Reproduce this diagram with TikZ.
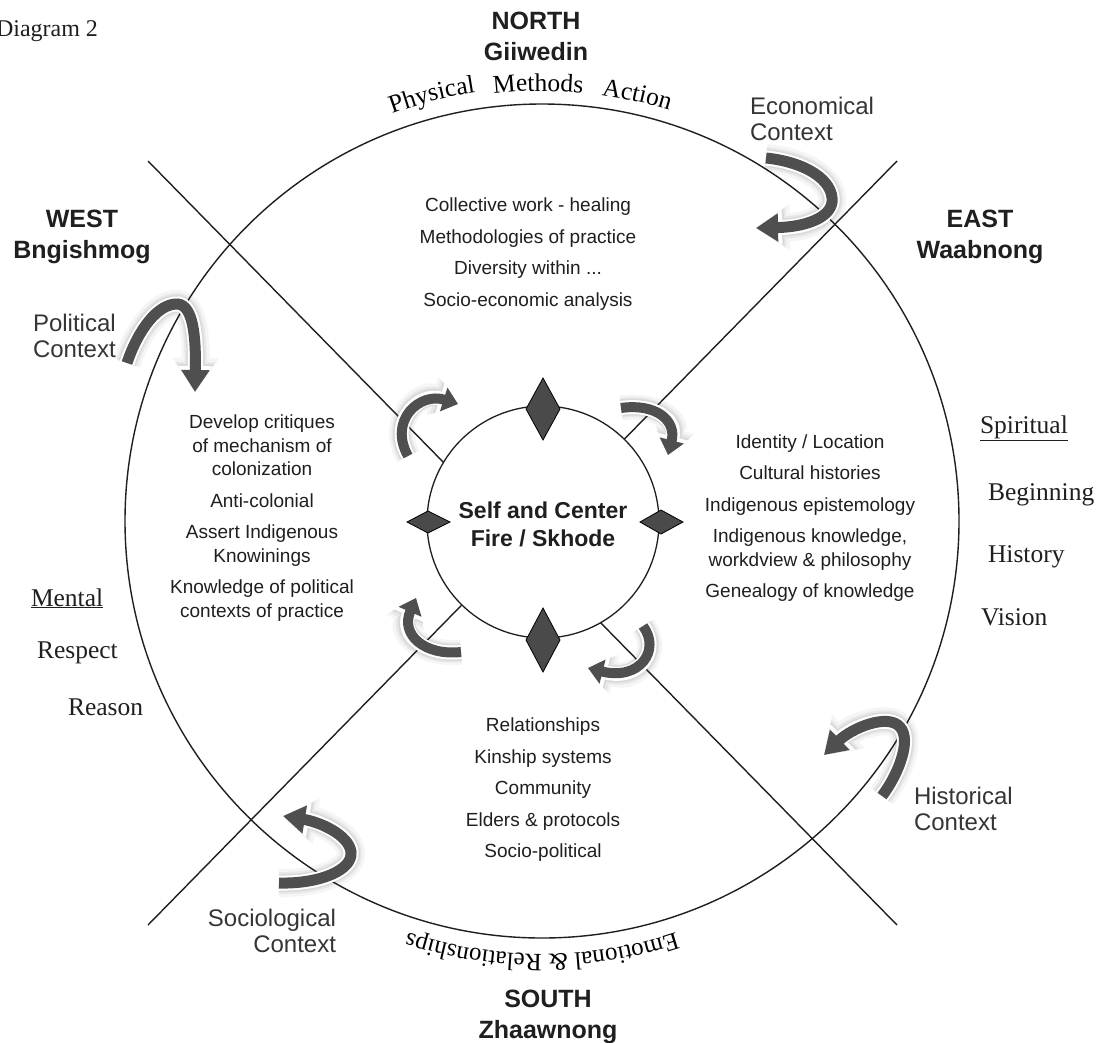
\documentclass[tikz,border=0pt]{standalone}
\usepackage{fontspec}
\setmainfont{Liberation Sans}
\newfontfamily\serifx{Liberation Serif}
\usetikzlibrary{arrows.meta,decorations.text}
\definecolor{ink}{HTML}{1F1F1F}
\definecolor{ribbon}{HTML}{4F4F4F}
\definecolor{diam}{HTML}{4A4A4A}
\tikzset{
  every node/.style={text=ink, inner sep=0pt, outer sep=0pt},
  listtext/.style={align=center, font=\fontsize{19}{23.5}\selectfont},
  heading/.style={align=center, font=\bfseries\fontsize{25}{31}\selectfont},
  ctxtext/.style={font=\fontsize{24}{26}\selectfont, text=ink!90},
  sertext/.style={font=\serifx\fontsize{25.5}{30}\selectfont},
  axisline/.style={draw=ink, line width=1.4pt},
  diamondshape/.style={fill=diam, draw=black, line width=0.8pt},
  bigsha/.style={draw=black!4, line width=28pt, -{Triangle[width=44pt,length=34pt]}},
  bigshb/.style={draw=black!9, line width=22pt, -{Triangle[width=39pt,length=30pt]}},
  bigshc/.style={draw=black!15, line width=18pt, -{Triangle[width=35pt,length=28pt]}},
  bigedge/.style={draw=white, line width=15pt, -{Triangle[width=33pt,length=26pt]}},
  bigfill/.style={draw=ribbon, line width=11pt, -{Triangle[width=27pt,length=22pt]}},
  smallsha/.style={draw=black!4, line width=25pt, -{Triangle[width=39pt,length=27pt]}},
  smallshb/.style={draw=black!9, line width=20pt, -{Triangle[width=35pt,length=24pt]}},
  smallshc/.style={draw=black!15, line width=17pt, -{Triangle[width=32pt,length=21pt]}},
  smalledge/.style={draw=white, line width=14pt, -{Triangle[width=30pt,length=19pt]}},
  smallfill/.style={draw=ribbon, line width=10pt, -{Triangle[width=24pt,length=15pt]}},
}
\newcommand{\ribshadow}[2]{\draw[#1sha] #2; \draw[#1shb] #2; \draw[#1shc] #2;}
\newcommand{\ribbody}[2]{\draw[#1edge] #2; \draw[#1fill] #2;}
\def\rbEco{(766,158) .. controls (805,162) and (834,180) .. (832,202) .. controls (830,218) and (805,227) .. (756,228)}
\def\rbPol{(127,363) .. controls (138,330) and (158,303) .. (178,304) .. controls (193,306) and (196,335) .. (195,392)}
\def\rbHis{(882,796) .. controls (898,775) and (912,740) .. (900,727) .. controls (888,713) and (852,728) .. (824,755)}
\def\rbSoc{(279,883) .. controls (320,884) and (353,870) .. (351,852) .. controls (349,835) and (320,822) .. (283,816)}
\def\rbNW{(408,456) .. controls (388,420) and (420,392) .. (458,404)}
\def\rbNE{(621,408) .. controls (655,403) and (677,420) .. (668,455)}
\def\rbSW{(461,652) .. controls (425,656) and (400,635) .. (416,598)}
\def\rbSE{(643,626) .. controls (661,650) and (640,681) .. (588,668)}
\begin{document}
\begin{tikzpicture}[x=1pt,y=-1pt]
\useasboundingbox (0,0) rectangle (1099,1042);
\fill[white] (0,0) rectangle (1099,1042);
% soft shadows of the ribbon arrows
\ribshadow{big}{\rbEco}
\ribshadow{big}{\rbPol}
\ribshadow{big}{\rbHis}
\ribshadow{big}{\rbSoc}
\ribshadow{small}{\rbNW}
\ribshadow{small}{\rbNE}
\ribshadow{small}{\rbSW}
\ribshadow{small}{\rbSE}
% outer circle and axes
\node[circle, draw=ink, line width=1.4pt, minimum size=834pt] (outer) at (542,521) {};
\coordinate (nw) at (148,161);
\coordinate (se) at (897,925);
\coordinate (ne) at (897,161);
\coordinate (sw) at (148,925);
\draw[axisline] (nw) -- (se);
\draw[axisline] (ne) -- (sw);
% inner circle
\node[circle, draw=ink, line width=1.3pt, fill=white, minimum size=232pt] (self) at (543,522) {};
\node[font=\bfseries\fontsize{23}{28}\selectfont, align=center] (selftext) at (543,524) {Self and Center\\Fire / Skhode};
% ribbon arrows
\ribbody{big}{\rbEco}
\ribbody{big}{\rbPol}
\ribbody{big}{\rbHis}
\ribbody{big}{\rbSoc}
\ribbody{small}{\rbNW}
\ribbody{small}{\rbNE}
\ribbody{small}{\rbSW}
\ribbody{small}{\rbSE}
% diamonds
\draw[diamondshape] (543,378) -- (560,409) -- (543,440) -- (526,409) -- cycle;
\draw[diamondshape] (543,608) -- (560,640) -- (543,672) -- (526,640) -- cycle;
\draw[diamondshape] (407,522) -- (428,511) -- (450,522) -- (428,533) -- cycle;
\draw[diamondshape] (640,522) -- (661,510) -- (683,522) -- (661,534) -- cycle;
% headings
\node[heading] (north) at (536,36) {NORTH\\Giiwedin};
\node[heading] (west) at (82,237) {WEST\\Bngishmog};
\node[heading] (east) at (980,237) {EAST\\Waabnong};
\node[heading] (south) at (548,1017) {SOUTH\\Zhaawnong};
% lists
\node[listtext] (nlist) at (528,254) {Collective work - healing\\[8pt]Methodologies of practice\\[8pt]Diversity within ...\\[8pt]Socio-economic analysis};
\node[listtext] (wlist) at (262,518) {Develop critiques\\of mechanism of\\colonization\\[8pt]Anti-colonial\\[8pt]Assert Indigenous\\Knowinings\\[8pt]Knowledge of political\\contexts of practice};
\node[listtext] (elist) at (810,518) {Identity / Location\\[8pt]Cultural histories\\[8pt]Indigenous epistemology\\[8pt]Indigenous knowledge,\\workdview \& philosophy\\[8pt]Genealogy of knowledge};
\node[listtext] (slist) at (543,790) {Relationships\\[8pt]Kinship systems\\[8pt]Community\\[8pt]Elders \& protocols\\[8pt]Socio-political};
% context labels
\node[ctxtext, align=left, anchor=west] (eco) at (750,119) {Economical\\Context};
\node[ctxtext, align=left, anchor=west] (pol) at (33,336) {Political\\Context};
\node[ctxtext, align=left, anchor=west] (his) at (914,809) {Historical\\Context};
\node[ctxtext, align=right, anchor=east] (soc) at (336,931) {Sociological\\Context};
% serif side labels
\node[sertext, anchor=base west, font=\serifx\fontsize{24}{28}\selectfont] (diag) at (-4,36) {Diagram 2};
\node[sertext, anchor=base west] (mental) at (31,606) {\underline{Mental}};
\node[sertext, anchor=base west] (respect) at (37,658) {Respect};
\node[sertext, anchor=base west] (reason) at (68,715) {Reason};
\node[sertext, anchor=base west] (spiritual) at (980,433) {\underline{Spiritual}};
\node[sertext, anchor=base west] (beginning) at (988,500) {Beginning};
\node[sertext, anchor=base west] (history) at (988,562) {History};
\node[sertext, anchor=base west] (vision) at (981,625) {Vision};
% curved texts
\path[decorate, decoration={text along path, text align=center, text={|\serifx\fontsize{25.5}{30}\selectfont|Physical}}] (542,521) ++(-118.5:434) arc[start angle=-118.5, end angle=-90.5, radius=434];
\path[decorate, decoration={text along path, text align=center, text={|\serifx\fontsize{25.5}{30}\selectfont|Methods}}] (542,521) ++(-104.5:430) arc[start angle=-104.5, end angle=-76.5, radius=430];
\path[decorate, decoration={text along path, text align=center, text={|\serifx\fontsize{25.5}{30}\selectfont|Action}}] (542,521) ++(-91.4:430) arc[start angle=-91.4, end angle=-63.4, radius=430];
\path[decorate, decoration={text along path, text align=center, text={|\serifx\fontsize{25}{30}\selectfont|Emotional {\&} Relationships}}] (542,521) ++(50:433) arc[start angle=50, end angle=130, radius=433];
\end{tikzpicture}
\end{document}
